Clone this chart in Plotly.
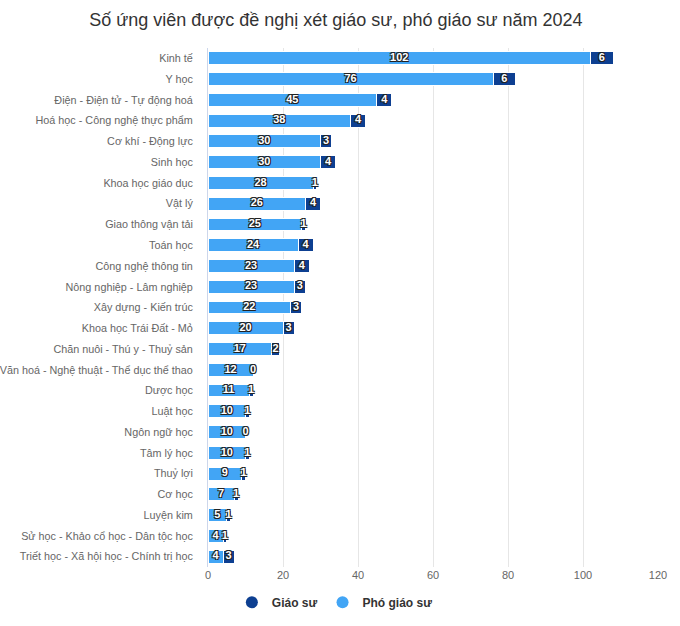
import plotly.graph_objects as go

categories = [
    "Kinh tế", "Y học", "Điện - Điện tử - Tự động hoá", "Hoá học - Công nghệ thực phẩm",
    "Cơ khí - Động lực", "Sinh học", "Khoa học giáo dục", "Vật lý", "Giao thông vận tải",
    "Toán học", "Công nghệ thông tin", "Nông nghiệp - Lâm nghiệp", "Xây dựng - Kiến trúc",
    "Khoa học Trái Đất - Mỏ", "Chăn nuôi - Thú y - Thuỷ sản",
    "Văn hoá - Nghệ thuật - Thể dục thể thao", "Dược học", "Luật học", "Ngôn ngữ học",
    "Tâm lý học", "Thuỷ lợi", "Cơ học", "Luyện kim", "Sử học - Khảo cổ học - Dân tộc học",
    "Triết học - Xã hội học - Chính trị học",
]
pho_giao_su = [102, 76, 45, 38, 30, 30, 28, 26, 25, 24, 23, 23, 22, 20, 17, 12, 11, 10, 10, 10, 9, 7, 5, 4, 4]
giao_su = [6, 6, 4, 4, 3, 4, 1, 4, 1, 4, 4, 3, 3, 3, 2, 0, 1, 1, 0, 1, 1, 1, 1, 1, 3]
x_ticks = [0, 20, 40, 60, 80, 100, 120]

LIGHT = "#42a5f5"
DARK = "#0d3f91"
FONT = "Liberation Sans, Arial, sans-serif"
OUTLINE = "1px 1px 0 #222, -1px -1px 0 #222, 1px -1px 0 #222, -1px 1px 0 #222"

fig = go.Figure()
fig.add_trace(go.Bar(
    y=categories, x=pho_giao_su, orientation="h", name="Phó giáo sư",
    marker=dict(color=LIGHT, line=dict(color="white", width=1)), showlegend=False,
    hoverinfo="x+y",
))
fig.add_trace(go.Bar(
    y=categories, x=giao_su, orientation="h", name="Giáo sư",
    marker=dict(color=DARK, line=dict(color="white", width=1)), showlegend=False,
    hoverinfo="x+y",
))

# data labels
fig.add_trace(go.Scatter(
    y=categories, x=[v / 2 for v in pho_giao_su], mode="text",
    text=[str(v) for v in pho_giao_su],
    textfont=dict(family=FONT, size=11, color="white", weight="bold", shadow=OUTLINE),
    showlegend=False, hoverinfo="skip", cliponaxis=False,
))
fig.add_trace(go.Scatter(
    y=categories, x=[p + g / 2 for p, g in zip(pho_giao_su, giao_su)], mode="text",
    text=[str(v) for v in giao_su],
    textfont=dict(family=FONT, size=11, color="white", weight="bold", shadow=OUTLINE),
    showlegend=False, hoverinfo="skip", cliponaxis=False,
))

# legend entries (circle symbols)
fig.add_trace(go.Scatter(x=[None], y=[None], mode="markers", name="Giáo sư",
                         marker=dict(color=DARK, size=13, symbol="circle")))
fig.add_trace(go.Scatter(x=[None], y=[None], mode="markers", name="Phó giáo sư",
                         marker=dict(color=LIGHT, size=13, symbol="circle")))

fig.update_layout(
    width=680, height=626,
    barmode="stack", bargap=0.38,
    plot_bgcolor="white", paper_bgcolor="white",
    margin=dict(l=208, r=22, t=48, b=59, autoexpand=False),
    font=dict(family=FONT, color="#666666", size=11),
    title=dict(
        text="Số ứng viên được đề nghị xét giáo sư, phó giáo sư năm 2024",
        x=0.494, xref="container", xanchor="center",
        y=0.968, yref="container", yanchor="middle",
        font=dict(family=FONT, size=18, color="#333333"),
    ),
    legend=dict(
        orientation="h", x=0.053, xanchor="left", y=-0.068, yanchor="middle",
        font=dict(family=FONT, size=12, color="#333333", weight="bold"),
        itemsizing="constant", bgcolor="rgba(0,0,0,0)", traceorder="normal",
    ),
    xaxis=dict(
        range=[0, 120], tickvals=x_ticks, showgrid=True, gridcolor="#e6e6e6",
        zeroline=False, showline=False, ticks="", tickfont=dict(size=11, color="#666666"),
        fixedrange=True, automargin=False,
    ),
    yaxis=dict(
        type="category", categoryorder="array", categoryarray=categories,
        range=[len(categories) - 0.5, -0.5], showline=True, linecolor="#ccd6eb", linewidth=1,
        ticks="", ticklabelstandoff=12, tickfont=dict(size=10.8, color="#666666"),
        showgrid=False, fixedrange=True, automargin=False,
    ),
)

fig.write_html("out.html", config={"displayModeBar": False},
               post_script="document.body.style.margin='0';")
